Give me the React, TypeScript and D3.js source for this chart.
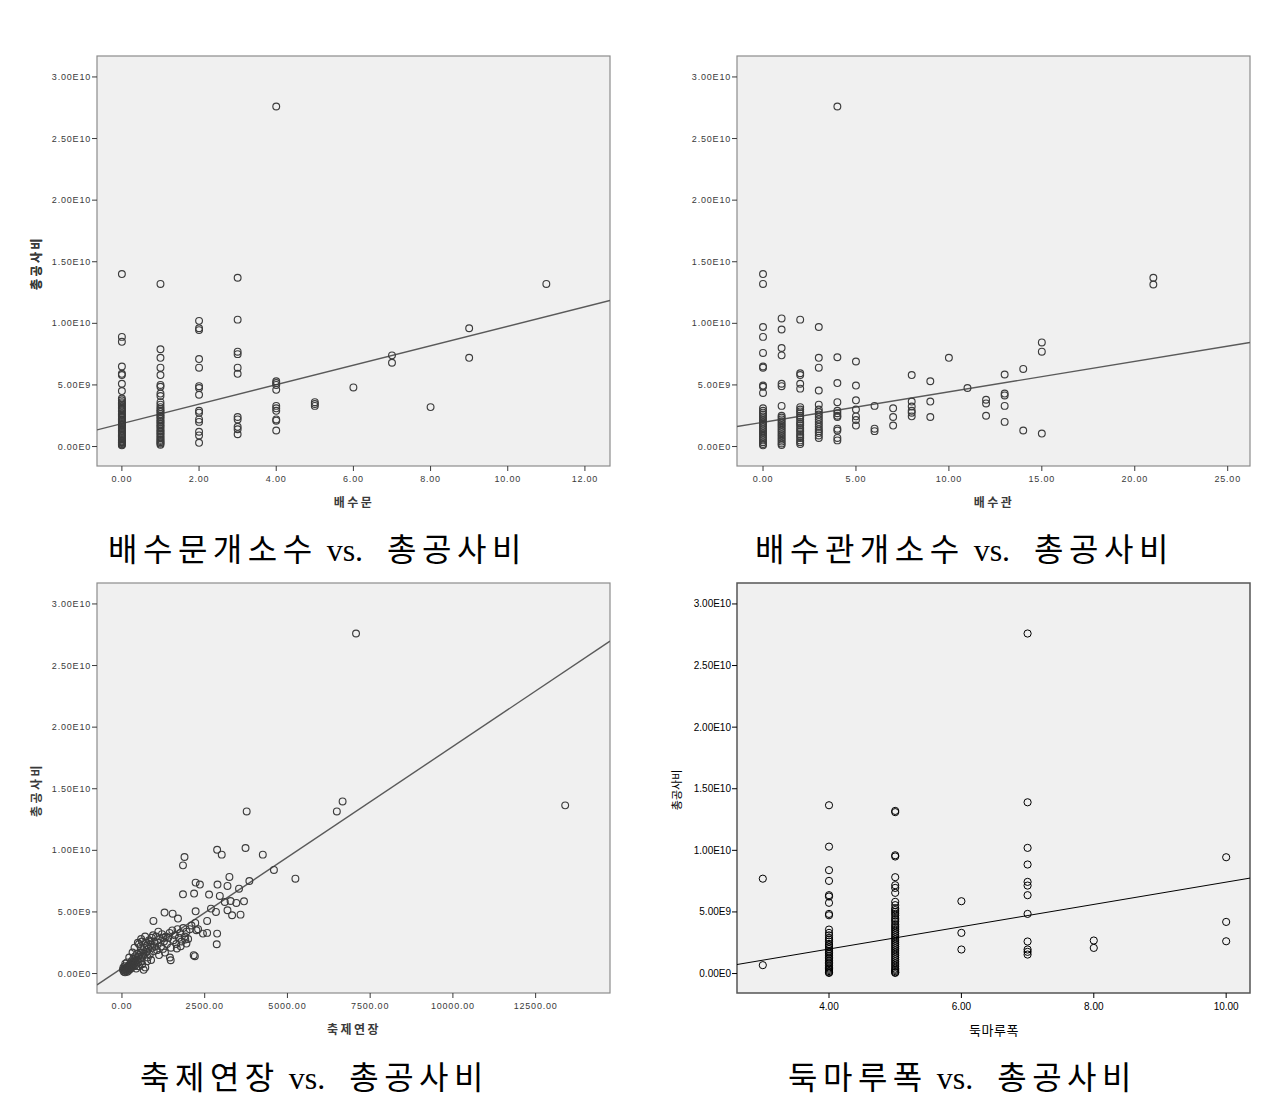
import React from 'react';
import * as d3 from 'd3';

// y axis is shared by all four plots (총공사비, won)
const Y_TICK_VALUES = [0, 5e9, 1e10, 1.5e10, 2e10, 2.5e10, 3e10];
const Y_TICK_LABELS = ['0.00E0', '5.00E9', '1.00E10', '1.50E10', '2.00E10', '2.50E10', '3.00E10'];

const SLUICE_X_TICKS = [0, 2, 4, 6, 8, 10, 12];
const PIPE_X_TICKS = [0, 5, 10, 15, 20, 25];
const LEVEE_X_TICKS = [0, 2500, 5000, 7500, 10000, 12500];
const CREST_X_TICKS = [4, 6, 8, 10];

// fitted lines: [intercept, slope]
const SLUICE_FIT = [1.86e9, 7.9e8];
const PIPE_FIT = [1.97e9, 2.47e8];
const LEVEE_FIT = [4.35e8, 1.8e6];
const CREST_FIT = [-1.63e9, 9.05e8];

// points: [x, 총공사비 in 1e9 won]
const sluicePoints: [number, number][] = [
  [0, 14.0], [0, 8.9], [0, 8.5], [0, 6.5], [0, 5.9], [0, 5.8], [0, 5.1], [0, 4.5], [0, 3.9], [0, 3.75],
  [0, 3.6], [0, 3.5], [0, 3.4], [0, 3.3], [0, 3.15], [0, 3.05], [0, 2.95], [0, 2.85], [0, 2.7], [0, 2.6],
  [0, 2.5], [0, 2.4], [0, 2.3], [0, 2.2], [0, 2.1], [0, 2.0], [0, 1.9], [0, 1.8], [0, 1.72], [0, 1.6],
  [0, 1.5], [0, 1.42], [0, 1.3], [0, 1.2], [0, 1.1], [0, 1.0], [0, 0.9], [0, 0.82], [0, 0.7], [0, 0.6],
  [0, 0.5], [0, 0.42], [0, 0.35], [0, 0.28], [0, 0.2], [0, 0.15], [0, 0.1],
  [1, 13.2], [1, 7.9], [1, 7.2], [1, 6.4], [1, 5.8], [1, 5.0], [1, 4.85], [1, 4.3], [1, 4.1], [1, 3.6],
  [1, 3.4], [1, 3.2], [1, 3.05], [1, 2.9], [1, 2.8], [1, 2.65], [1, 2.5], [1, 2.4], [1, 2.25], [1, 2.1],
  [1, 2.0], [1, 1.85], [1, 1.7], [1, 1.6], [1, 1.45], [1, 1.3], [1, 1.2], [1, 1.05], [1, 0.95], [1, 0.8],
  [1, 0.7], [1, 0.55], [1, 0.45], [1, 0.35], [1, 0.25], [1, 0.15],
  [2, 10.2], [2, 9.6], [2, 9.45], [2, 7.1], [2, 6.4], [2, 4.9], [2, 4.75], [2, 4.2], [2, 2.9], [2, 2.75],
  [2, 2.2], [2, 2.0], [2, 1.2], [2, 0.9], [2, 0.3],
  [3, 13.7], [3, 10.3], [3, 7.7], [3, 7.5], [3, 6.4], [3, 5.9], [3, 2.4], [3, 2.2], [3, 1.6], [3, 1.4], [3, 1.0],
  [4, 27.6], [4, 5.3], [4, 5.15], [4, 5.0], [4, 4.6], [4, 3.3], [4, 3.1], [4, 2.9], [4, 2.2], [4, 2.1], [4, 1.3],
  [5, 3.6], [5, 3.45], [5, 3.3],
  [6, 4.8], [7, 7.4], [7, 6.8], [8, 3.2], [9, 9.6], [9, 7.2], [11, 13.2],
];

const pipePoints: [number, number][] = [
  [0, 14.0], [0, 13.2], [0, 9.7], [0, 8.9], [0, 7.6], [0, 6.5], [0, 6.4], [0, 4.95], [0, 4.85], [0, 4.35],
  [0, 3.1], [0, 2.9], [0, 2.75], [0, 2.6], [0, 2.45], [0, 2.3], [0, 2.15], [0, 2.0], [0, 1.85], [0, 1.7],
  [0, 1.55], [0, 1.4], [0, 1.25], [0, 1.1], [0, 0.95], [0, 0.8], [0, 0.65], [0, 0.5], [0, 0.35], [0, 0.2], [0, 0.1],
  [1, 10.4], [1, 9.5], [1, 8.0], [1, 7.4], [1, 5.1], [1, 4.9], [1, 3.3], [1, 2.5], [1, 2.35], [1, 2.2],
  [1, 2.05], [1, 1.9], [1, 1.75], [1, 1.6], [1, 1.45], [1, 1.3], [1, 1.15], [1, 1.0], [1, 0.85], [1, 0.7],
  [1, 0.55], [1, 0.4], [1, 0.25], [1, 0.12],
  [2, 10.3], [2, 5.95], [2, 5.8], [2, 5.1], [2, 4.7], [2, 3.2], [2, 3.0], [2, 2.85], [2, 2.7], [2, 2.5],
  [2, 2.35], [2, 2.2], [2, 2.0], [2, 1.85], [2, 1.7], [2, 1.5], [2, 1.35], [2, 1.2], [2, 1.0], [2, 0.85],
  [2, 0.7], [2, 0.5], [2, 0.35], [2, 0.2],
  [3, 9.7], [3, 7.2], [3, 6.4], [3, 4.55], [3, 3.4], [3, 3.0], [3, 2.8], [3, 2.6], [3, 2.4], [3, 2.2],
  [3, 2.0], [3, 1.8], [3, 1.6], [3, 1.4], [3, 1.25], [3, 1.1], [3, 0.9], [3, 0.7],
  [4, 27.6], [4, 7.25], [4, 5.15], [4, 3.6], [4, 2.9], [4, 2.7], [4, 2.5], [4, 2.4], [4, 1.45], [4, 1.3], [4, 0.7], [4, 0.5],
  [5, 6.9], [5, 4.95], [5, 3.75], [5, 3.0], [5, 2.45], [5, 2.15], [5, 1.7],
  [6, 3.3], [6, 1.45], [6, 1.25],
  [7, 3.1], [7, 2.4], [7, 1.7],
  [8, 5.8], [8, 3.65], [8, 3.25], [8, 2.9], [8, 2.75], [8, 2.45],
  [9, 5.3], [9, 3.65], [9, 2.4],
  [10, 7.2], [11, 4.75],
  [12, 3.8], [12, 3.5], [12, 2.5],
  [13, 5.85], [13, 4.3], [13, 4.15], [13, 3.3], [13, 2.0],
  [14, 6.3], [14, 1.3],
  [15, 8.45], [15, 7.7], [15, 1.05],
  [21, 13.7], [21, 13.15],
];

const leveePoints: [number, number][] = [
  [7073, 27.6], [6667, 13.97], [6493, 13.16], [3769, 13.16], [13393, 13.65], [2876, 10.05], [3734, 10.19],
  [3015, 9.65], [4256, 9.65], [1890, 9.46], [1844, 8.78], [4592, 8.41], [5241, 7.7], [3247, 7.84],
  [3850, 7.51], [2226, 7.38], [2355, 7.22], [2887, 7.22], [3189, 7.11], [3537, 6.89], [1844, 6.43],
  [2180, 6.49], [2632, 6.41], [2957, 6.3], [3108, 5.81], [3282, 5.89], [3456, 5.73], [3688, 5.86],
  [2690, 5.27], [2841, 5.0], [2226, 5.05], [3189, 5.14], [3328, 4.73], [3583, 4.78], [1287, 4.95],
  [1531, 4.86], [1693, 4.46], [951, 4.27], [2574, 4.27], [2215, 4.11], [2250, 3.51], [2447, 3.24],
  [2574, 3.3], [2876, 3.24], [2864, 2.38], [2168, 1.49], [2203, 1.41], [1473, 1.08], [1450, 1.3],
  [1948, 2.43], [1913, 2.76], [1774, 2.22], [1658, 2.03],
  [30, 0.3], [45, 0.5], [60, 0.15], [70, 0.4], [80, 0.25], [90, 0.6], [95, 0.1], [100, 0.8], [110, 0.35],
  [120, 0.2], [135, 0.45], [150, 0.3], [160, 0.15], [175, 0.55], [185, 0.4], [200, 0.25], [210, 0.65],
  [225, 0.5], [240, 0.35], [250, 0.8], [265, 0.6], [280, 0.45], [290, 1.0], [300, 0.7], [315, 0.55],
  [330, 0.9], [345, 1.2], [355, 0.75], [370, 1.05], [385, 0.6], [400, 1.4], [410, 0.95], [425, 1.25],
  [440, 0.8], [455, 1.6], [470, 1.1], [485, 1.35], [500, 0.9], [515, 2.4], [530, 1.5], [545, 1.2],
  [560, 2.2], [575, 1.7], [590, 1.0], [605, 2.6], [620, 1.45], [640, 1.9], [655, 0.3], [670, 2.1],
  [690, 1.6], [705, 0.5], [720, 2.5], [740, 1.75], [760, 2.3], [780, 1.3], [800, 2.0], [820, 2.7],
  [840, 1.55], [860, 2.35], [880, 1.1], [900, 2.9], [920, 2.1], [940, 3.1], [960, 1.8], [980, 2.6],
  [1000, 2.2], [1030, 3.0], [1060, 1.9], [1090, 2.5], [1120, 1.5], [1150, 2.8], [1180, 2.2], [1210, 3.2],
  [1240, 2.0], [1270, 2.6], [1300, 1.7], [1330, 3.0], [1360, 2.4], [1400, 2.9], [1440, 3.3], [1480, 2.1],
  [1520, 3.5], [1560, 2.7], [1600, 3.1], [1640, 2.4], [1680, 3.6], [1720, 2.9], [1760, 3.3], [1800, 2.6],
  [1850, 3.7], [1900, 3.0], [1950, 3.4], [2000, 2.8], [2050, 3.6], [2100, 3.9], [2300, 3.6],
  [150, 0.9], [220, 1.3], [320, 1.7], [380, 2.1], [480, 2.5], [580, 2.8], [700, 3.0], [430, 0.4],
  [520, 0.6], [610, 0.75], [760, 1.0], [850, 2.6], [1100, 3.4], [1250, 2.9],
];

const crestPoints: [number, number][] = [
  [3, 7.7], [3, 0.68],
  [4, 13.66], [4, 10.3], [4, 8.39], [4, 7.52], [4, 6.36], [4, 6.25], [4, 5.74], [4, 4.84], [4, 4.73],
  [4, 3.57], [4, 3.3], [4, 3.1], [4, 2.9], [4, 2.75], [4, 2.6], [4, 2.4], [4, 2.3], [4, 2.15], [4, 2.0],
  [4, 1.85], [4, 1.7], [4, 1.6], [4, 1.45], [4, 1.3], [4, 1.2], [4, 1.05], [4, 0.9], [4, 0.8], [4, 0.65],
  [4, 0.5], [4, 0.4], [4, 0.3], [4, 0.2], [4, 0.1], [4, 0.05],
  [5, 13.2], [5, 13.1], [5, 9.6], [5, 9.5], [5, 7.82], [5, 7.17], [5, 6.95], [5, 6.55], [5, 5.82], [5, 5.55],
  [5, 5.3], [5, 5.15], [5, 5.0], [5, 4.85], [5, 4.7], [5, 4.5], [5, 4.35], [5, 4.2], [5, 4.0], [5, 3.85],
  [5, 3.7], [5, 3.55], [5, 3.4], [5, 3.25], [5, 3.1], [5, 2.95], [5, 2.8], [5, 2.65], [5, 2.5], [5, 2.35],
  [5, 2.2], [5, 2.05], [5, 1.9], [5, 1.75], [5, 1.6], [5, 1.45], [5, 1.3], [5, 1.15], [5, 1.0], [5, 0.85],
  [5, 0.7], [5, 0.55], [5, 0.4], [5, 0.3], [5, 0.2], [5, 0.1], [5, 0.05],
  [6, 5.87], [6, 3.3], [6, 1.95],
  [7, 27.6], [7, 13.9], [7, 10.2], [7, 8.85], [7, 7.44], [7, 7.14], [7, 6.36], [7, 4.84], [7, 2.6], [7, 1.95],
  [7, 1.76], [7, 1.54],
  [8, 2.68], [8, 2.08],
  [10, 9.44], [10, 4.19], [10, 2.62],
];

const Y_DOMAIN = [-1.58e9, 3.17e10];

const panels = [
  {
    id: 'p1', left: 97, top: 56, xDomain: [-0.645, 12.65], xTicks: SLUICE_X_TICKS, fmt: d3.format('.2f'),
    points: sluicePoints, fit: SLUICE_FIT, xLabel: '배수문', caption: ['배수문개소수', '총공사비'],
    capX: 108, capY: 561, crisp: false,
  },
  {
    id: 'p2', left: 737, top: 56, xDomain: [-1.4, 26.2], xTicks: PIPE_X_TICKS, fmt: d3.format('.2f'),
    points: pipePoints, fit: PIPE_FIT, xLabel: '배수관', caption: ['배수관개소수', '총공사비'],
    capX: 755, capY: 561, crisp: false,
  },
  {
    id: 'p3', left: 97, top: 583, xDomain: [-754, 14747], xTicks: LEVEE_X_TICKS, fmt: d3.format('.2f'),
    points: leveePoints, fit: LEVEE_FIT, xLabel: '축제연장', caption: ['축제연장', '총공사비'],
    capX: 140, capY: 1089, crisp: false,
  },
  {
    id: 'p4', left: 737, top: 583, xDomain: [2.61, 10.36], xTicks: CREST_X_TICKS, fmt: d3.format('.2f'),
    points: crestPoints, fit: CREST_FIT, xLabel: '둑마루폭', caption: ['둑마루폭', '총공사비'],
    capX: 788, capY: 1089, crisp: true,
  },
];

const W = 513;
const H = 410;

function Panel({ p }: { p: any }) {
  const x = d3.scaleLinear().domain(p.xDomain).range([p.left, p.left + W]);
  const y = d3.scaleLinear().domain(Y_DOMAIN).range([p.top + H, p.top]);
  const line = d3.line<number>().x(d => x(d)).y(d => y(p.fit[0] + p.fit[1] * d));
  const tickFont = p.crisp ? 10 : 9;
  const tickSpacing = p.crisp ? 0 : 0.8;
  const tickColor = p.crisp ? '#000' : '#3a3a3a';
  const markColor = p.crisp ? '#000' : '#3c3c3c';
  return (
    <g>
      <defs>
        <clipPath id={`clip-${p.id}`}>
          <rect x={p.left} y={p.top} width={W} height={H} />
        </clipPath>
      </defs>
      <rect x={p.left} y={p.top} width={W} height={H} fill="#f0f0f0"
        stroke={p.crisp ? '#555' : '#8c8c8c'} strokeWidth={p.crisp ? 1.5 : 1.2} />
      {Y_TICK_VALUES.map((v, i) => (
        <g key={v}>
          <line x1={p.left - 5} x2={p.left} y1={y(v)} y2={y(v)} stroke={tickColor} />
          <text x={p.left - 6} y={y(v)} dy="0.35em" textAnchor="end" fontSize={tickFont}
            fontFamily="'Liberation Sans', Arial, sans-serif" fill={tickColor}
            letterSpacing={tickSpacing}>{Y_TICK_LABELS[i]}</text>
        </g>
      ))}
      {p.xTicks.map((v: number) => (
        <g key={v}>
          <line x1={x(v)} x2={x(v)} y1={p.top + H} y2={p.top + H + 5} stroke={tickColor} />
          <text x={x(v)} y={p.top + H + 13} dy="0.35em" textAnchor="middle" fontSize={tickFont}
            fontFamily="'Liberation Sans', Arial, sans-serif" fill={tickColor}
            letterSpacing={tickSpacing}>{p.fmt(v)}</text>
        </g>
      ))}
      <g clipPath={`url(#clip-${p.id})`}>
        <path d={line(p.xDomain) || ''} fill="none" stroke={p.crisp ? '#000' : '#5a5a5a'}
          strokeWidth={p.crisp ? 1 : 1.4} />
        {p.points.map((d: [number, number], i: number) => (
          <circle key={i} cx={x(d[0])} cy={y(d[1] * 1e9)} r={p.crisp ? 3.6 : 3.4} fill="none"
            stroke={markColor} strokeWidth={p.crisp ? 1 : 1.15} />
        ))}
      </g>
      <text transform={`translate(${p.crisp ? 677 : 37},${p.top + 207}) rotate(-90)`} textAnchor="middle"
        dy="0.35em" fontSize={p.crisp ? 11 : 12} fontWeight={p.crisp ? 'normal' : 'bold'} fill={tickColor}
        fontFamily="'Noto Sans CJK KR', sans-serif" letterSpacing={p.crisp ? 0 : 2.5}>총공사비</text>
      <text x={p.left + 257} y={p.top + H + 37} dy="0.35em" textAnchor="middle"
        fontSize={p.crisp ? 13 : 12} fontWeight={p.crisp ? 'normal' : 'bold'} fill={tickColor}
        fontFamily="'Noto Sans CJK KR', sans-serif" letterSpacing={p.crisp ? 0.5 : 2.5}>{p.xLabel}</text>
      <text x={p.capX} y={p.capY} fontSize={32} fill="#000"
        fontFamily="'Liberation Serif', 'Noto Sans CJK KR', serif">
        <tspan letterSpacing={5.5}>{p.caption[0]}</tspan>
        <tspan dx={9} letterSpacing={0}>vs.</tspan>
        <tspan dx={24} letterSpacing={5.5}>{p.caption[1]}</tspan>
      </text>
    </g>
  );
}

export default function App() {
  return (
    <svg width={1264} height={1095} style={{ position: 'absolute', left: 0, top: 0, background: '#fff' }}>
      <rect width={1264} height={1095} fill="#fff" />
      {panels.map(p => <Panel key={p.id} p={p} />)}
    </svg>
  );
}
